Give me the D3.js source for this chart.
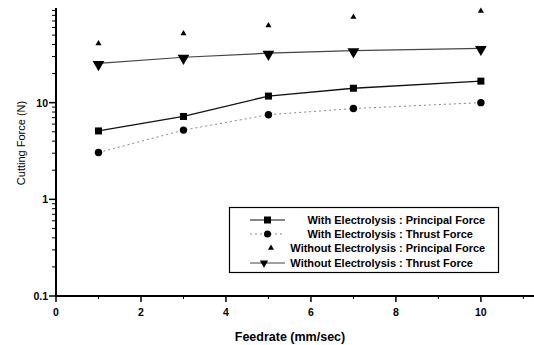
<!DOCTYPE html>
<html>
<head>
<meta charset="utf-8">
<script src="https://cdn.jsdelivr.net/npm/d3@7"></script>
<style>
  body { margin: 0; background: #fff; }
  text { font-family: "Liberation Sans", Arial, sans-serif; }
</style>
</head>
<body>
<script>
// chart data
var feedrate = [1, 3, 5, 7, 10];
var withPrincipal = [5.1, 7.2, 11.7, 14.1, 16.7];
var withThrust = [3.05, 5.2, 7.5, 8.7, 10.0];
var withoutPrincipal = [41, 52, 63, 77, 89];
var withoutThrust = [25.5, 29.5, 32.5, 34.5, 36.5];
var xTicks = [0, 2, 4, 6, 8, 10];
var yTicks = [0.1, 1, 10];
var legendLabels = [
  ["With Electrolysis", "Principal Force"],
  ["With Electrolysis", "Thrust Force"],
  ["Without Electrolysis", "Principal Force"],
  ["Without Electrolysis", "Thrust Force"]
];

var w = 534, h = 345;

var svg = d3.select("body").append("svg")
  .attr("width", w)
  .attr("height", h);

var x = d3.scaleLinear().domain([0, 11.25]).range([56, 534]);
var y = d3.scaleLog().domain([0.1, 100]).range([296, 6]);

// x axis
var xAxis = svg.append("g").attr("transform", "translate(0," + 296 + ")");
xAxis.append("line").attr("x1", 56).attr("x2", 534).attr("stroke", "#000").attr("stroke-width", 2);
xAxis.selectAll(".maj").data(xTicks).enter().append("line")
  .attr("x1", d => x(d)).attr("x2", d => x(d)).attr("y1", 0).attr("y2", 6)
  .attr("stroke", "#000").attr("stroke-width", 1.5);
xAxis.selectAll(".min").data([1, 3, 5, 7, 9, 11]).enter().append("line")
  .attr("x1", d => x(d)).attr("x2", d => x(d)).attr("y1", 0).attr("y2", 3)
  .attr("stroke", "#000").attr("stroke-width", 1);
xAxis.selectAll("text").data(xTicks).enter().append("text")
  .attr("x", d => x(d)).attr("y", 20)
  .attr("text-anchor", "middle").attr("font-size", 10.5).attr("font-weight", "bold")
  .text(d => d);

// y axis
var yAxis = svg.append("g");
yAxis.append("line").attr("x1", 56).attr("x2", 56).attr("y1", 8).attr("y2", 297)
  .attr("stroke", "#000").attr("stroke-width", 2);
var minor = [];
[0.1, 1, 10].forEach(function(b) { for (var k = 2; k <= 9; k++) minor.push(b * k); });
yAxis.selectAll(".min").data(minor).enter().append("line")
  .attr("x1", 52).attr("x2", 56).attr("y1", d => y(d)).attr("y2", d => y(d))
  .attr("stroke", "#000").attr("stroke-width", 1);
yAxis.selectAll(".maj").data(yTicks).enter().append("line")
  .attr("x1", 49).attr("x2", 56).attr("y1", d => y(d)).attr("y2", d => y(d))
  .attr("stroke", "#000").attr("stroke-width", 1.5);
yAxis.selectAll("text").data(yTicks).enter().append("text")
  .attr("x", 48).attr("y", d => y(d) + 4)
  .attr("text-anchor", "end").attr("font-size", 10.5).attr("font-weight", "bold")
  .text(d => d);

// axis titles
svg.append("text").attr("x", 290).attr("y", 341)
  .attr("text-anchor", "middle").attr("font-size", 12.5).attr("font-weight", "bold")
  .text("Feedrate (mm/sec)");
svg.append("text").attr("transform", "translate(25,143) rotate(-90)")
  .attr("text-anchor", "middle").attr("font-size", 11)
  .text("Cutting Force (N)");

var line = d3.line().x(d => x(d[0])).y(d => y(d[1]));
function pts(vals) { return feedrate.map((f, i) => [f, vals[i]]); }

var triDown = d3.symbol().type(d3.symbolTriangle).size(60);
var triUp = d3.symbol().type(d3.symbolTriangle).size(16);

// lines
svg.append("path").datum(pts(withoutThrust)).attr("d", line)
  .attr("fill", "none").attr("stroke", "#444").attr("stroke-width", 1.2);
svg.append("path").datum(pts(withPrincipal)).attr("d", line)
  .attr("fill", "none").attr("stroke", "#111").attr("stroke-width", 1.3);
svg.append("path").datum(pts(withThrust)).attr("d", line)
  .attr("fill", "none").attr("stroke", "#888").attr("stroke-width", 1)
  .attr("stroke-dasharray", "2,3");

// markers
svg.selectAll(".sq").data(pts(withPrincipal)).enter().append("rect")
  .attr("x", d => x(d[0]) - 3.5).attr("y", d => y(d[1]) - 3.5)
  .attr("width", 7).attr("height", 7).attr("fill", "#000");
svg.selectAll(".ci").data(pts(withThrust)).enter().append("circle")
  .attr("cx", d => x(d[0])).attr("cy", d => y(d[1])).attr("r", 3.7).attr("fill", "#000");
svg.selectAll(".tu").data(pts(withoutPrincipal)).enter().append("path")
  .attr("d", triUp).attr("transform", d => "translate(" + x(d[0]) + "," + y(d[1]) + ")")
  .attr("fill", "#000");
svg.selectAll(".td").data(pts(withoutThrust)).enter().append("path")
  .attr("d", triDown).attr("transform", d => "translate(" + x(d[0]) + "," + (y(d[1]) + 1) + ") rotate(180)")
  .attr("fill", "#000");

// legend
var lg = svg.append("g");
lg.append("rect").attr("x", 229.5).attr("y", 207.5).attr("width", 269).attr("height", 65)
  .attr("fill", "#fff").attr("stroke", "#000").attr("stroke-width", 1.2);
var rowY = [220, 234, 248, 263];
legendLabels.forEach(function(lab, i) {
  var yy = rowY[i];
  if (i === 0) {
    lg.append("line").attr("x1", 250).attr("x2", 285).attr("y1", yy).attr("y2", yy).attr("stroke", "#111").attr("stroke-width", 1.2);
    lg.append("rect").attr("x", 264).attr("y", yy - 3.5).attr("width", 7).attr("height", 7).attr("fill", "#000");
  } else if (i === 1) {
    lg.append("line").attr("x1", 250).attr("x2", 285).attr("y1", yy).attr("y2", yy).attr("stroke", "#888").attr("stroke-dasharray", "2,3");
    lg.append("circle").attr("cx", 267.5).attr("cy", yy).attr("r", 3.5).attr("fill", "#000");
  } else if (i === 2) {
    lg.append("path").attr("d", triUp).attr("transform", "translate(271," + yy + ")").attr("fill", "#000");
  } else {
    lg.append("line").attr("x1", 250).attr("x2", 285).attr("y1", yy).attr("y2", yy).attr("stroke", "#444").attr("stroke-width", 1.2);
    lg.append("path").attr("d", d3.symbol().type(d3.symbolTriangle).size(30)).attr("transform", "translate(264," + yy + ") rotate(180)").attr("fill", "#000");
  }
  lg.append("text").attr("x", 396).attr("y", yy + 4).attr("text-anchor", "end")
    .attr("font-size", 11).attr("font-weight", "bold").text(lab[0]);
  lg.append("text").attr("x", 399).attr("y", yy + 4).attr("text-anchor", "start")
    .attr("font-size", 11).attr("font-weight", "bold").text(": " + lab[1]);
});
</script>
</body>
</html>
